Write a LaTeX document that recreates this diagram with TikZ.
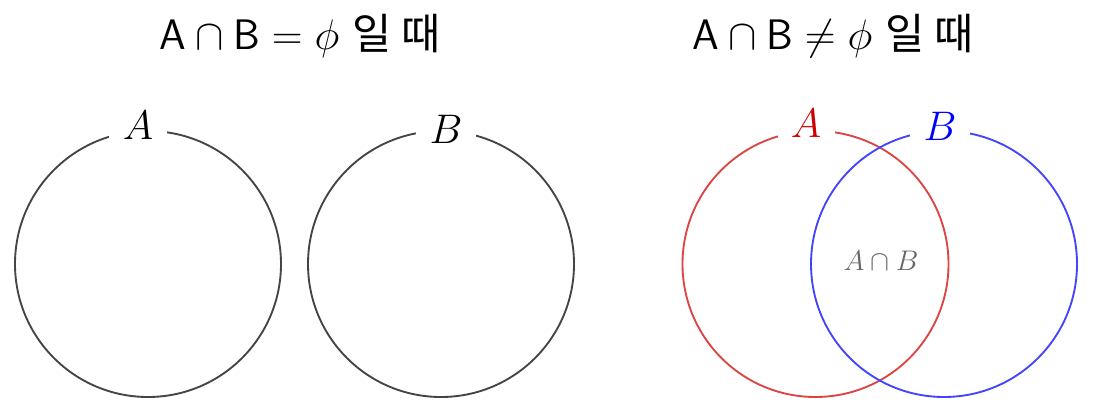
\RequirePackage{fix-cm}
\documentclass[tikz,border=0pt]{standalone}
\usepackage{fontspec}
\newfontfamily\kr{Noto Sans CJK KR}
\definecolor{circgray}{HTML}{444444}
\definecolor{circred}{HTML}{DD4444}
\definecolor{circblue}{HTML}{4444FF}
\definecolor{labred}{HTML}{CC0000}
\definecolor{labblue}{HTML}{0000FF}
\definecolor{midgray}{HTML}{666666}
\tikzset{
  setcirc/.style={draw, circle, minimum size=266*0.75pt, line width=1.4pt, inner sep=0pt},
  setlab/.style={fill=white, inner xsep=10pt, inner ysep=2pt, font=\fontsize{31}{36}\selectfont},
  title/.style={font=\fontsize{32}{38}\selectfont, inner sep=0pt, anchor=base}
}
\begin{document}
\begin{tikzpicture}[x=0.75pt, y=-0.75pt]
\useasboundingbox (0,0) rectangle (1094,416);
% left diagram
\node[setcirc, draw=circgray] (cA) at (148,264) {};
\node[setcirc, draw=circgray] (cB) at (441,264) {};
\node[setlab] (lA) at (138,125) {$A$};
\node[setlab] (lB) at (446,129) {$B$};
\node[title] (t1) at (300,50) {$\mathsf{A}\cap\mathsf{B}=\phi$\hspace{10pt}{\kr 일 때}};
% right diagram
\node[setcirc, draw=circred] (rA) at (815.5,264) {};
\node[setcirc, draw=circblue] (rB) at (944,264) {};
\node[setlab, text=labred] (lrA) at (806,123) {$A$};
\node[setlab, text=labblue] (lrB) at (940,126) {$B$};
\node[text=midgray, font=\fontsize{21.3}{26}\selectfont] (iAB) at (881,261) {$A\cap B$};
\node[title] (t2) at (833,50) {$\mathsf{A}\cap\mathsf{B}\neq\phi$\hspace{10pt}{\kr 일 때}};
\end{tikzpicture}
\end{document}
